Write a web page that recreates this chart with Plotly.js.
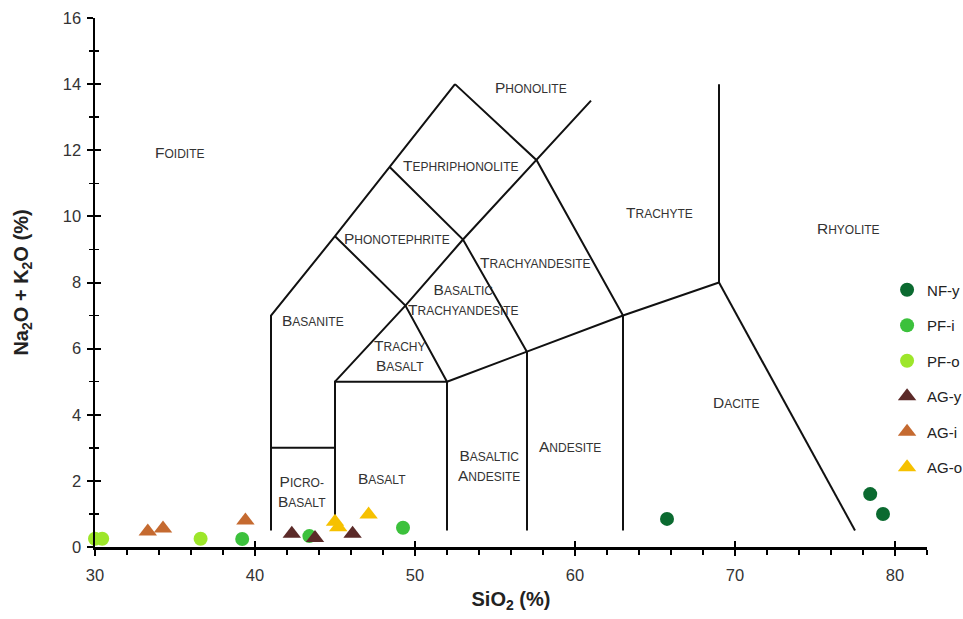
<!DOCTYPE html>
<html><head><meta charset="utf-8">
<script src="https://cdn.plot.ly/plotly-3.0.1.min.js"></script>
<style>html,body{margin:0;padding:0;background:#fff}#chart{width:963px;height:619px}</style>
</head><body><div id="chart"></div>
<script>
// ---- data ----
const seriesNames = ['NF-y', 'PF-i', 'PF-o', 'AG-y', 'AG-i', 'AG-o'];
const nfY_sio2 = [65.75, 78.45, 79.25];
const nfY_alk  = [0.85, 1.6, 1.0];
const pfI_sio2 = [39.2, 43.4, 49.25];
const pfI_alk  = [0.24, 0.33, 0.58];
const pfO_sio2 = [30.0, 30.45, 36.6];
const pfO_alk  = [0.25, 0.25, 0.25];
const agY_sio2 = [42.3, 43.75, 46.1];
const agY_alk  = [0.4, 0.27, 0.4];
const agI_sio2 = [33.3, 34.25, 39.4];
const agI_alk  = [0.47, 0.56, 0.8];
const agO_sio2 = [45.0, 45.2, 47.1];
const agO_alk  = [0.76, 0.6, 0.98];

// TAS field boundaries (SiO2, Na2O+K2O) polylines
const boundaryX = [
  [41, 41, 45, 48.4, 52.5],
  [41, 45],
  [45, 45, 52],
  [52, 52],
  [57, 57],
  [63, 63],
  [52, 57, 63, 69, 69],
  [69, 77.5],
  [45, 49.4, 53, 57.6, 61],
  [45, 49.4, 52],
  [48.4, 53, 57],
  [52.5, 57.6, 63]
];
const boundaryY = [
  [0.5, 7, 9.4, 11.5, 14],
  [3, 3],
  [0.5, 5, 5],
  [0.5, 5],
  [0.5, 5.9],
  [0.5, 7],
  [5, 5.9, 7, 8, 14],
  [8, 0.5],
  [5, 7.3, 9.3, 11.7, 13.5],
  [9.4, 7.3, 5],
  [11.5, 9.3, 5.9],
  [14, 11.7, 7]
];

// field labels
const fieldNames = ['Foidite', 'Phonolite', 'Tephriphonolite', 'Phonotephrite', 'Trachyandesite',
  'Basaltic|Trachyandesite', 'Basanite', 'Trachy|basalt', 'Picro-|Basalt', 'Basalt',
  'Basaltic|Andesite', 'Andesite', 'Trachyte', 'Rhyolite', 'Dacite'];
const fieldX = [35.3, 57.25, 52.9, 48.9, 57.5, 53.0, 43.6, 49.06, 42.94, 47.94, 54.6, 59.7, 65.25, 77.1, 70.1];
const fieldY = [11.94, 13.9, 11.55, 9.33, 8.6, 7.5, 6.85, 5.8, 1.68, 2.06, 2.48, 3.03, 10.12, 9.64, 4.36];

// ---- build ----
const FONT = 'Liberation Sans, Arial, sans-serif';
const colors = ['#0b6a30', '#3cc13c', '#9de62a', '#5b2a28', '#c56a30', '#f6c100'];
const symbols = ['circle', 'circle', 'circle', 'triangle-up', 'triangle-up', 'triangle-up'];
const xs = [nfY_sio2, pfI_sio2, pfO_sio2, agY_sio2, agI_sio2, agO_sio2];
const ys = [nfY_alk, pfI_alk, pfO_alk, agY_alk, agI_alk, agO_alk];

const lx = [], ly = [];
boundaryX.forEach((seg, i) => { lx.push(...seg, null); ly.push(...boundaryY[i], null); });

const traces = [{
  x: lx, y: ly, mode: 'lines', type: 'scatter',
  line: {color: '#111', width: 2}, showlegend: false, hoverinfo: 'skip'
}];
seriesNames.forEach((n, i) => {
  traces.push({
    x: xs[i], y: ys[i], name: n, type: 'scatter', mode: 'markers',
    legendgroup: n, cliponaxis: false,
    marker: {color: colors[i], symbol: symbols[i], size: symbols[i] === 'circle' ? 14 : 16, line: {width: 0}}
  });
});
traces.push({x: [], y: [], xaxis: 'x2', yaxis: 'y2', showlegend: false, type: 'scatter'});

function sc(word) {
  return word.split(' ').map(w => {
    if (!w) return w;
    const first = w[0].toUpperCase();
    const rest = w.slice(1).toUpperCase();
    return first + (rest ? '<span style="font-size:12px">' + rest + '</span>' : '');
  }).join(' ');
}
const annotations = fieldNames.map((n, i) => ({
  x: fieldX[i], y: fieldY[i], xref: 'x', yref: 'y', showarrow: false,
  text: n.split('|').map(sc).join('<br>'),
  font: {family: FONT, size: 15.5, color: '#333'},
  xanchor: 'center', yanchor: 'middle', align: 'center'
}));

const tickFont = {family: FONT, size: 16.5, color: '#333'};
const layout = {
  width: 963, height: 619,
  margin: {l: 95, r: 36, t: 18, b: 72, autoexpand: false},
  paper_bgcolor: '#fff', plot_bgcolor: '#fff',
  showlegend: true,
  legend: {x: 0.952, y: 0.517, xanchor: 'left', yanchor: 'top', traceorder: 'grouped',
    tracegroupgap: 13, font: {family: FONT, size: 15, color: '#222'},
    bgcolor: 'rgba(0,0,0,0)'},
  xaxis: {
    range: [30, 82], dtick: 10, tick0: 30, showgrid: false, zeroline: false,
    showline: true, linecolor: '#000', linewidth: 2.5,
    ticks: 'outside', ticklen: 6, tickwidth: 2, tickcolor: '#000', ticklabelstandoff: 6,
    minor: {dtick: 2, ticks: 'outside', ticklen: 5, tickwidth: 1.5, tickcolor: '#000', showgrid: false},
    tickfont: tickFont,
    title: {text: '<b>SiO<sub>2</sub> (%)</b>', font: {family: FONT, size: 20, color: '#222'}, standoff: 9}
  },
  yaxis: {
    range: [0, 16], dtick: 2, showgrid: false, zeroline: false,
    showline: true, linecolor: '#000', linewidth: 2.5,
    ticks: 'outside', ticklen: 6, tickwidth: 2, tickcolor: '#000', ticklabelstandoff: 2,
    minor: {dtick: 1, ticks: 'outside', ticklen: 4, tickwidth: 1.5, tickcolor: '#000', showgrid: false},
    tickfont: tickFont,
    title: {text: '<b>Na<sub>2</sub>O + K<sub>2</sub>O (%)</b>', font: {family: FONT, size: 20, color: '#222'}, standoff: 29}
  },
  xaxis2: {overlaying: 'x', anchor: 'y2', range: [30, 82], dtick: 10, tick0: 30, showgrid: false, zeroline: false,
    showline: false, ticks: 'inside', ticklen: 6, tickwidth: 2, tickcolor: '#000', showticklabels: false},
  yaxis2: {overlaying: 'y', anchor: 'x2', range: [0, 16], dtick: 2, showgrid: false, zeroline: false,
    showline: false, ticks: 'inside', ticklen: 6, tickwidth: 2, tickcolor: '#000', showticklabels: false,
    minor: {dtick: 1, ticks: 'inside', ticklen: 4, tickwidth: 1.5, tickcolor: '#000', showgrid: false}},
  annotations: annotations
};
Plotly.newPlot('chart', traces, layout, {displayModeBar: false, staticPlot: true});
</script>
</body></html>
